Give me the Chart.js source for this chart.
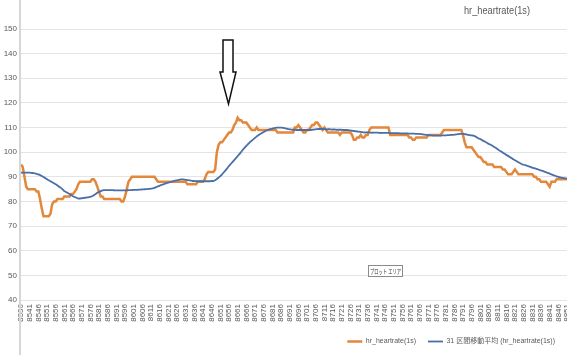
<!DOCTYPE html>
<html>
<head>
<meta charset="utf-8">
<script src="https://cdn.jsdelivr.net/npm/chart.js@4.4.0/dist/chart.umd.min.js"></script>
<style>
html,body{margin:0;padding:0;background:#fff;overflow:hidden;}
#wrap{width:567px;height:355px;position:relative;}
</style>
</head>
<body>
<div id="wrap"><canvas id="c" width="567" height="355"></canvas></div>
<script>
const FIRST_CATEGORY = 8536;
const CATEGORY_COUNT = 316;
const categories = [];
for (let i = 0; i < CATEGORY_COUNT; i++) categories.push(String(FIRST_CATEGORY + i));

const yTicks = [40, 50, 60, 70, 80, 90, 100, 110, 120, 130, 140, 150];

const seriesNames = ['hr_heartrate(1s)', '31 区間移動平均 (hr_heartrate(1s))'];
const chartTitle = 'hr_heartrate(1s)';
const plotAreaTip = 'プロット エリア';

const heartRate = [
95,94,90,86,85,85,85,85,85,84,
84,81,77,74,74,74,74,75,79,80,
80,81,81,81,81,82,82,82,82,83,
83,84,85,87,88,88,88,88,88,88,
88,89,89,88,86,84,82,82,81,81,
81,81,81,81,81,81,81,81,80,80,
82,85,88,89,90,90,90,90,90,90,
90,90,90,90,90,90,90,90,89,88,
88,88,88,88,88,88,88,88,88,88,
88,88,88,88,88,88,87,87,87,87,
87,87,88,88,88,88,89,91,92,92,
92,92,93,100,103,104,104,105,106,107,
108,108,109,111,112,114,113,113,112,112,
112,111,110,109,109,109,110,109,109,109,
109,109,109,109,109,109,109,109,108,108,
108,108,108,108,108,108,108,108,110,110,
111,110,109,108,108,109,109,110,111,111,
112,112,111,110,109,110,109,108,108,108,
108,108,108,108,107,108,108,108,108,108,
108,107,105,105,106,106,107,106,106,107,
107,109,110,110,110,110,110,110,110,110,
110,110,110,107,107,107,107,107,107,107,
107,107,107,107,106,106,105,105,106,106,
106,106,106,106,106,107,107,107,107,107,
107,107,107,108,109,109,109,109,109,109,
109,109,109,109,109,107,104,102,102,102,
102,101,100,99,98,98,97,96,96,95,
95,95,95,94,94,94,94,94,93,93,
92,91,91,91,92,93,92,91,91,91,
91,91,91,91,91,91,90,90,89,89,
88,88,88,88,87,86,88,88,88,89,
89,89,89,89,89,89
];

const movingAvg31 = [
91.7,91.7,91.7,91.7,91.7,91.7,91.6,91.5,91.4,91.2,
91.0,90.7,90.3,89.9,89.5,89.0,88.6,88.2,87.8,87.4,
87.0,86.5,86.0,85.5,84.9,84.2,83.8,83.4,83.0,82.6,
82.1,81.8,81.5,81.2,81.2,81.3,81.4,81.5,81.6,81.7,
81.9,82.1,82.5,83.0,83.5,83.9,84.2,84.5,84.6,84.6,
84.6,84.6,84.6,84.6,84.5,84.5,84.5,84.5,84.5,84.5,
84.5,84.5,84.6,84.6,84.6,84.7,84.7,84.7,84.8,84.8,
84.9,84.9,85.0,85.0,85.1,85.2,85.3,85.5,85.8,86.1,
86.4,86.7,86.9,87.2,87.4,87.6,87.8,88.0,88.3,88.5,
88.6,88.8,88.9,89.0,88.9,88.8,88.7,88.6,88.5,88.3,
88.3,88.2,88.2,88.2,88.2,88.2,88.2,88.2,88.2,88.2,
88.3,88.3,88.6,89.1,89.7,90.3,91.0,91.8,92.6,93.5,
94.4,95.2,96.0,96.8,97.6,98.4,99.2,100.1,101.0,101.8,
102.6,103.3,104.0,104.6,105.2,105.8,106.4,106.9,107.4,107.8,
108.2,108.6,108.9,109.2,109.4,109.6,109.8,109.9,110.0,110.0,
110.0,109.9,109.8,109.6,109.4,109.3,109.2,109.1,109.1,109.0,
109.0,109.0,109.0,109.0,109.0,109.0,109.0,109.0,109.1,109.2,
109.3,109.4,109.4,109.4,109.4,109.4,109.3,109.3,109.3,109.2,
109.2,109.2,109.1,109.1,109.1,109.1,109.0,109.0,109.0,108.9,
108.8,108.7,108.6,108.5,108.4,108.3,108.2,108.1,108.0,108.0,
108.0,108.0,107.9,107.9,107.9,107.9,107.9,107.8,107.8,107.8,
107.8,107.8,107.8,107.7,107.7,107.7,107.7,107.7,107.7,107.6,
107.6,107.6,107.6,107.6,107.5,107.5,107.5,107.5,107.4,107.4,
107.4,107.3,107.2,107.1,107.0,106.9,106.8,106.8,106.7,106.7,
106.7,106.7,106.7,106.8,106.8,106.8,106.9,106.9,107.0,107.0,
107.1,107.2,107.3,107.4,107.4,107.4,107.3,107.2,107.0,106.9,
106.8,106.7,106.4,106.0,105.6,105.3,104.9,104.5,104.1,103.7,
103.3,103.0,102.6,102.1,101.7,101.2,100.7,100.3,99.8,99.4,
98.9,98.5,98.0,97.6,97.1,96.7,96.3,95.9,95.5,95.1,
94.9,94.7,94.5,94.2,94.0,93.7,93.5,93.3,93.1,92.8,
92.6,92.4,92.1,91.8,91.6,91.3,91.0,90.7,90.5,90.2,
90.0,89.8,89.6,89.5,89.4,89.3
];

const FONT = "'Liberation Sans', 'Noto Sans CJK JP', sans-serif";
const TEXT = '#595959';
const ORANGE = '#E3873A';
const BLUE = '#4A6EA8';

const decorations = {
  id: 'decorations',
  afterDraw(chart) {
    const ctx = chart.ctx;
    ctx.save();
    // left frame line
    ctx.strokeStyle = '#d6d6d6';
    ctx.lineWidth = 2;
    ctx.beginPath();
    ctx.moveTo(20, 0);
    ctx.lineTo(20, 355);
    ctx.stroke();
    // title
    ctx.fillStyle = TEXT;
    ctx.font = "11px " + FONT;
    ctx.textAlign = 'center';
    ctx.textBaseline = 'middle';
    ctx.fillText(chartTitle, 497, 11, 66);
    // arrow annotation
    ctx.beginPath();
    ctx.moveTo(223, 40);
    ctx.lineTo(233, 40);
    ctx.lineTo(233, 72);
    ctx.lineTo(236, 72);
    ctx.lineTo(228.5, 104);
    ctx.lineTo(220, 72);
    ctx.lineTo(223, 72);
    ctx.closePath();
    ctx.fillStyle = '#fff';
    ctx.fill();
    ctx.strokeStyle = '#111';
    ctx.lineWidth = 1.5;
    ctx.stroke();
    // plot-area tooltip
    ctx.fillStyle = '#fff';
    ctx.fillRect(368.5, 265.5, 34, 11);
    ctx.strokeStyle = '#8a8a8a';
    ctx.lineWidth = 1;
    ctx.strokeRect(368.5, 265.5, 34, 11);
    ctx.fillStyle = '#333';
    ctx.font = "6.5px 'Noto Sans CJK JP', sans-serif";
    ctx.fillText(plotAreaTip, 385.5, 271.5, 31);
    ctx.restore();
  }
};

new Chart(document.getElementById('c'), {
  type: 'line',
  data: {
    labels: categories,
    datasets: [
      {
        label: seriesNames[0],
        data: heartRate,
        borderColor: ORANGE,
        backgroundColor: ORANGE,
        borderWidth: 2.5,
        pointRadius: 0,
        tension: 0,
        order: 2
      },
      {
        label: seriesNames[1],
        data: movingAvg31,
        borderColor: BLUE,
        backgroundColor: BLUE,
        borderWidth: 1.8,
        pointRadius: 0,
        tension: 0.3,
        order: 1
      }
    ]
  },
  options: {
    responsive: false,
    devicePixelRatio: 1,
    animation: false,
    layout: { padding: { top: 29, right: 0, left: 0, bottom: 0 } },
    plugins: {
      title: { display: false },
      tooltip: { enabled: false },
      legend: {
        position: 'bottom',
        align: 'end',
        labels: {
          usePointStyle: true,
          pointStyle: 'line',
          pointStyleWidth: 15,
          padding: 12,
          color: TEXT,
          font: { size: 7, family: FONT },
          sort: (a, b) => a.datasetIndex - b.datasetIndex
        }
      }
    },
    scales: {
      x: {
        type: 'category',
        offset: false,
        grid: { display: false, drawTicks: false },
        border: { display: false },
        ticks: {
          autoSkip: false,
          minRotation: 90,
          maxRotation: 90,
          padding: 4,
          color: TEXT,
          font: { size: 8, family: FONT },
          callback: function (value, index) {
            return index % 5 === 0 ? categories[index] : '';
          }
        },
        afterFit(scale) {
          scale.height = 26;
          scale.paddingLeft = 0;
          scale.paddingRight = 0;
        }
      },
      y: {
        min: 40,
        max: 150,
        afterBuildTicks(scale) {
          scale.ticks = yTicks.map(v => ({ value: v }));
        },
        grid: { color: '#e4e4e4', lineWidth: 1, drawTicks: false },
        border: { display: false },
        ticks: {
          padding: 4,
          color: TEXT,
          font: { size: 8, family: FONT }
        },
        afterFit(scale) {
          scale.width = 21;
        }
      }
    }
  },
  plugins: [decorations]
});
</script>
</body>
</html>
